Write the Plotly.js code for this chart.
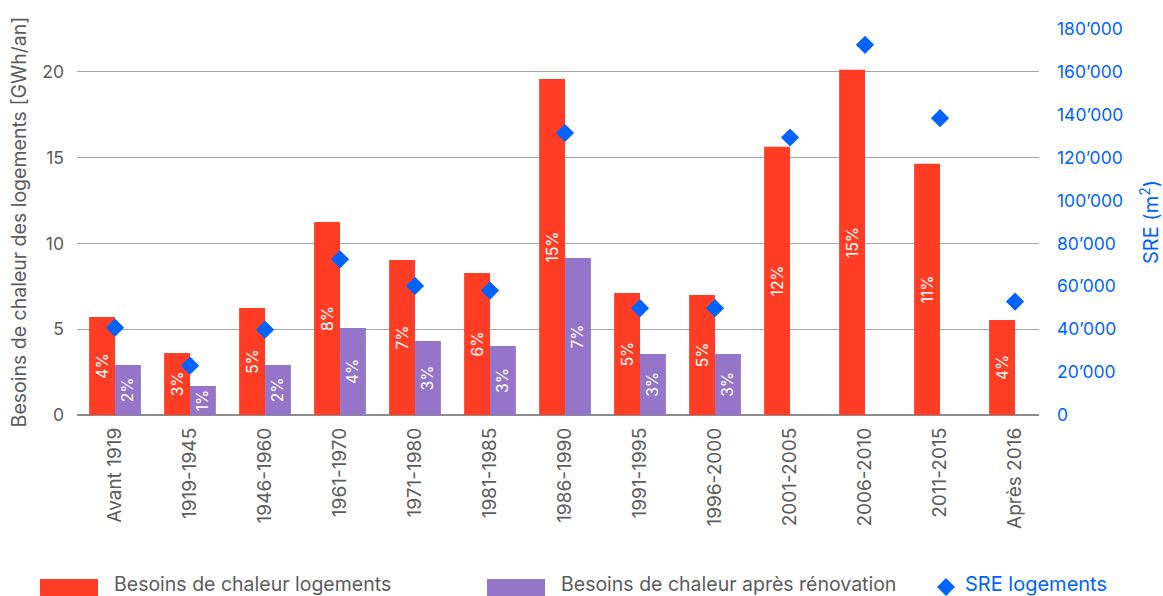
<!DOCTYPE html>
<html>
<head>
<meta charset="utf-8">
<script src="https://cdn.plot.ly/plotly-3.0.1.min.js"></script>
<style>html,body{margin:0;padding:0;background:#fff;}#chart{width:1163px;height:596px;}</style>
</head>
<body>
<div id="chart"></div>
<script>
const categories = ["Avant 1919","1919-1945","1946-1960","1961-1970","1971-1980","1981-1985","1986-1990","1991-1995","1996-2000","2001-2005","2006-2010","2011-2015","Après 2016"];
const besoins = [5.71, 3.62, 6.24, 11.25, 9.04, 8.28, 19.59, 7.11, 7.0, 15.63, 20.12, 14.64, 5.54];
const besoinsPct = ["4%","3%","5%","8%","7%","6%","15%","5%","5%","12%","15%","11%","4%"];
// "après rénovation" exists only for the first 9 periods
const apresRenov = [2.92, 1.69, 2.92, 5.07, 4.31, 4.02, 9.15, 3.56, 3.56];
const apresRenovPct = ["2%","1%","2%","4%","3%","3%","7%","3%","3%"];
const sre = [40700, 23000, 39800, 72600, 60200, 58000, 131500, 49800, 49800, 129400, 172600, 138400, 52900];
const legendLabels = ["Besoins de chaleur logements","Besoins de chaleur après rénovation","SRE logements"];

const RED = "#FF3D24", PURPLE = "#9575CA", BLUE = "#0062FF", GRAY = "#5c5c5c";
const FONT = "Inter, Liberation Sans, Arial, sans-serif";

const W = 1163, H = 596, ML = 77, MR = 124, MT = 29, MB = 181;
const PW = W - ML - MR, PH = H - MT - MB;
const px = v => (v - ML) / PW;
const py = v => (H - MB - v) / PH;

const traces = [
  {type:"bar", name:legendLabels[0], x:categories, y:besoins, text:besoinsPct,
   marker:{color:RED}, textposition:"inside", insidetextanchor:"middle", textangle:-90,
   constraintext:"none", textfont:{color:"#fff", size:15.5, family:FONT}, showlegend:false, hoverinfo:"y"},
  {type:"bar", name:legendLabels[1], x:categories.slice(0, apresRenov.length), y:apresRenov, text:apresRenovPct,
   marker:{color:PURPLE}, textposition:"inside", insidetextanchor:"middle", textangle:-90,
   constraintext:"none", textfont:{color:"#fff", size:15.5, family:FONT}, showlegend:false, hoverinfo:"y"},
  {type:"scatter", mode:"markers", name:legendLabels[2], x:categories, y:sre, yaxis:"y2",
   marker:{symbol:"diamond", size:14, color:BLUE}, showlegend:false}
];

const shapes = [
  {type:"rect", xref:"paper", yref:"paper", x0:px(40), x1:px(98), y0:py(579), y1:py(600), fillcolor:RED, line:{width:0}},
  {type:"rect", xref:"paper", yref:"paper", x0:px(487), x1:px(545), y0:py(579), y1:py(600), fillcolor:PURPLE, line:{width:0}},
  {type:"path", xref:"paper", yref:"paper",
   path:`M ${px(946)} ${py(578)} L ${px(955)} ${py(587)} L ${px(946)} ${py(596)} L ${px(937)} ${py(587)} Z`,
   fillcolor:BLUE, line:{width:0}}
];
const annotations = [
  {xref:"paper", yref:"paper", x:px(112), y:py(584), xanchor:"left", yanchor:"middle", showarrow:false,
   text:legendLabels[0], font:{size:19.5, color:GRAY, family:FONT}},
  {xref:"paper", yref:"paper", x:px(559), y:py(584), xanchor:"left", yanchor:"middle", showarrow:false,
   text:legendLabels[1], font:{size:19.5, color:GRAY, family:FONT}},
  {xref:"paper", yref:"paper", x:px(963), y:py(584), xanchor:"left", yanchor:"middle", showarrow:false,
   text:legendLabels[2], font:{size:20, color:BLUE, family:FONT}}
];

const layout = {
  width:W, height:H, paper_bgcolor:"#fff", plot_bgcolor:"#fff",
  margin:{l:ML, r:MR, t:MT, b:MB, pad:0},
  font:{family:FONT, color:GRAY},
  barmode:"group", bargap:0.31, bargroupgap:0,
  separators:".’",
  showlegend:false,
  xaxis:{type:"category", categoryorder:"array", categoryarray:categories, range:[-0.507, 12.32], tickangle:-90, showgrid:false, ticks:"",
         ticklabelstandoff:8, tickfont:{size:19, color:GRAY, family:FONT}, showline:false, zeroline:false},
  yaxis:{range:[0,22.5], dtick:5, tick0:0, showgrid:true, gridcolor:"#a6a6a6", gridwidth:1.2,
         zeroline:true, zerolinecolor:"#8c8c8c", zerolinewidth:1.2, ticks:"", ticklabelstandoff:12,
         tickfont:{size:17.5, color:GRAY, family:FONT},
         title:{text:"Besoins de chaleur des logements [GWh/an]", font:{size:19.5, color:GRAY, family:FONT}, standoff:10}},
  yaxis2:{overlaying:"y", side:"right", range:[0,180000], dtick:20000, tick0:0, tickformat:",d",
          showgrid:false, zeroline:false, ticks:"", ticklabelstandoff:17,
          tickfont:{size:17.5, color:BLUE, family:FONT},
          title:{text:"SRE (m<sup>2</sup>)", font:{size:20, color:BLUE, family:FONT}, standoff:26}},
  shapes:shapes, annotations:annotations
};

Plotly.newPlot("chart", traces, layout, {displayModeBar:false, staticPlot:true});
</script>
</body>
</html>
